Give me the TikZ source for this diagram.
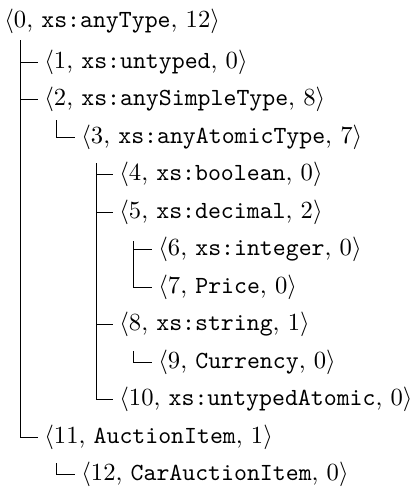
\documentclass[tikz,border=0pt]{standalone}
\usetikzlibrary{positioning}

\begin{document}
\begin{tikzpicture}[x=0.406pt, y=-0.406pt,
    rowlabel/.style={anchor=west, inner sep=0pt, outer sep=2.6pt},
    branch/.style={draw=black, line width=0.4pt}]
            \useasboundingbox (0,0) rectangle (410,487);

            % one node per type, indented by depth
            \foreach \i/\x/\y/\n/\k in {0/-2/21/xs:anyType/12,
                1/38/62/xs:untyped/0, 2/38/99.5/xs:anySimpleType/8,
                3/75/137/xs:anyAtomicType/7, 4/113/174.5/xs:boolean/0,
                5/113/212/xs:decimal/2, 6/152/249.5/xs:integer/0,
                7/152/287/Price/0, 8/113/324.5/xs:string/1,
                9/152/362/Currency/0, 10/113/399.5/xs:untypedAtomic/0,
                11/38/437/AuctionItem/1, 12/75/474/CarAuctionItem/0}
            \node[rowlabel] (r\i) at (\x, \y) {$\langle\i$, \texttt{\n}, $\k\rangle$};

            % tops of the branch lines
            \coordinate (t0) at (20, 40);
            \coordinate (t2) at (56, 120);
            \coordinate (t3) at (96, 163);
            \coordinate (t5) at (133, 241);
            \coordinate (t8) at (133, 351);
            \coordinate (t11) at (56, 463);

            \draw[branch] (t0) |- (r1.west) (t0) |- (r2.west) (t0) |- (r11.west);
            \draw[branch] (t2) |- (r3.west);
            \draw[branch] (t3) |- (r4.west) (t3) |- (r5.west) (t3) |- (r8.west) (t3) |- (r10.west);
            \draw[branch] (t5) |- (r6.west) (t5) |- (r7.west);
            \draw[branch] (t8) |- (r9.west);
            \draw[branch] (t11) |- (r12.west);
        \end{tikzpicture}
\end{document}
